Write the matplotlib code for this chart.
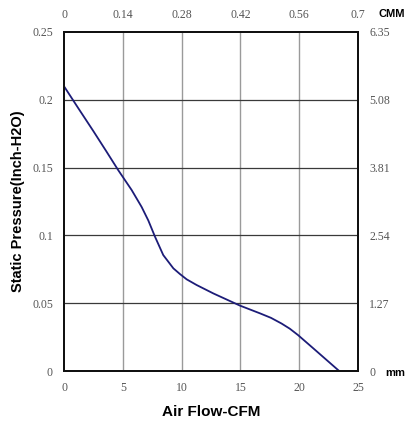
import matplotlib
matplotlib.use("Agg")
import matplotlib.pyplot as plt

# Data
airflow_cfm = [0, 1.2, 2.49, 3.6, 4.62, 5.75, 6.6, 7.17, 7.74, 8.44, 9.3, 9.86, 10.43, 11.28, 12.7, 14.97, 16.67, 17.6, 18.5, 19.2, 19.9, 21.2, 23.4]
pressure_inh2o = [0.210, 0.194, 0.177, 0.162, 0.148, 0.1335, 0.121, 0.111, 0.099, 0.0855, 0.0757, 0.0715, 0.0676, 0.0634, 0.0572, 0.0482, 0.0425, 0.0392, 0.0350, 0.0312, 0.0265, 0.0167, 0.0]

bottom_ticks = [0, 5, 10, 15, 20, 25]
left_ticks = [0, 0.05, 0.1, 0.15, 0.2, 0.25]
top_labels = ["0", "0.14", "0.28", "0.42", "0.56", "0.7"]
right_labels = ["0", "1.27", "2.54", "3.81", "5.08", "6.35"]
left_labels = ["0", "0.05", "0.1", "0.15", "0.2", "0.25"]

serif = ["Liberation Serif", "DejaVu Serif"]
sans = ["Liberation Sans", "DejaVu Sans"]
tick_color = "#555555"

fig = plt.figure(figsize=(4.11, 4.24), dpi=100)
ax = fig.add_axes([64/411, 1 - 371/424, (358-64)/411, (371-32)/424])

ax.set_xlim(0, 25)
ax.set_ylim(0, 0.25)
ax.set_xticks(bottom_ticks)
ax.set_yticks(left_ticks)
ax.set_xticklabels([str(t) for t in bottom_ticks], family=serif, fontsize=8.5, color=tick_color)
ax.set_yticklabels(left_labels, family=serif, fontsize=8.5, color=tick_color)
ax.tick_params(length=0, pad=8)

for x in bottom_ticks[1:-1]:
    ax.axvline(x, color="#9a9a9a", lw=1.0, zorder=1)
for y in left_ticks[1:-1]:
    ax.axhline(y, color="#3a3a3a", lw=0.9, zorder=1)

for s in ax.spines.values():
    s.set_linewidth(1.4)
    s.set_color("#111111")

ax.plot(airflow_cfm, pressure_inh2o, color="#1c1c78", lw=1.3, zorder=3,
        solid_joinstyle="round")

axt = ax.twiny()
axt.set_xlim(0, 25)
axt.set_xticks(bottom_ticks)
axt.set_xticklabels(top_labels, family=serif, fontsize=8.5, color=tick_color)
axt.tick_params(length=0, pad=8)

axr = ax.twinx()
axr.set_ylim(0, 0.25)
axr.set_yticks(left_ticks)
axr.set_yticklabels(right_labels, family=serif, fontsize=8.5, color=tick_color)
axr.tick_params(length=0, pad=8)

for a in (axt, axr):
    for s in a.spines.values():
        s.set_linewidth(1.4)
        s.set_color("#111111")

ax.set_xlabel("Air Flow-CFM", family=sans, fontsize=11, fontweight="bold", labelpad=8)
ax.set_ylabel("Static Pressure(Inch-H2O)", family=sans, fontsize=10.5, fontweight="bold", labelpad=5)

fig.text(378/411, 1 - 14/424, "CMM", family=sans, fontsize=8, fontweight="bold", va="center", ha="left")
fig.text(385/411, 1 - 373/424, "mm", family=sans, fontsize=8, fontweight="bold", va="center", ha="left")

fig.savefig("out.png", dpi=100)
